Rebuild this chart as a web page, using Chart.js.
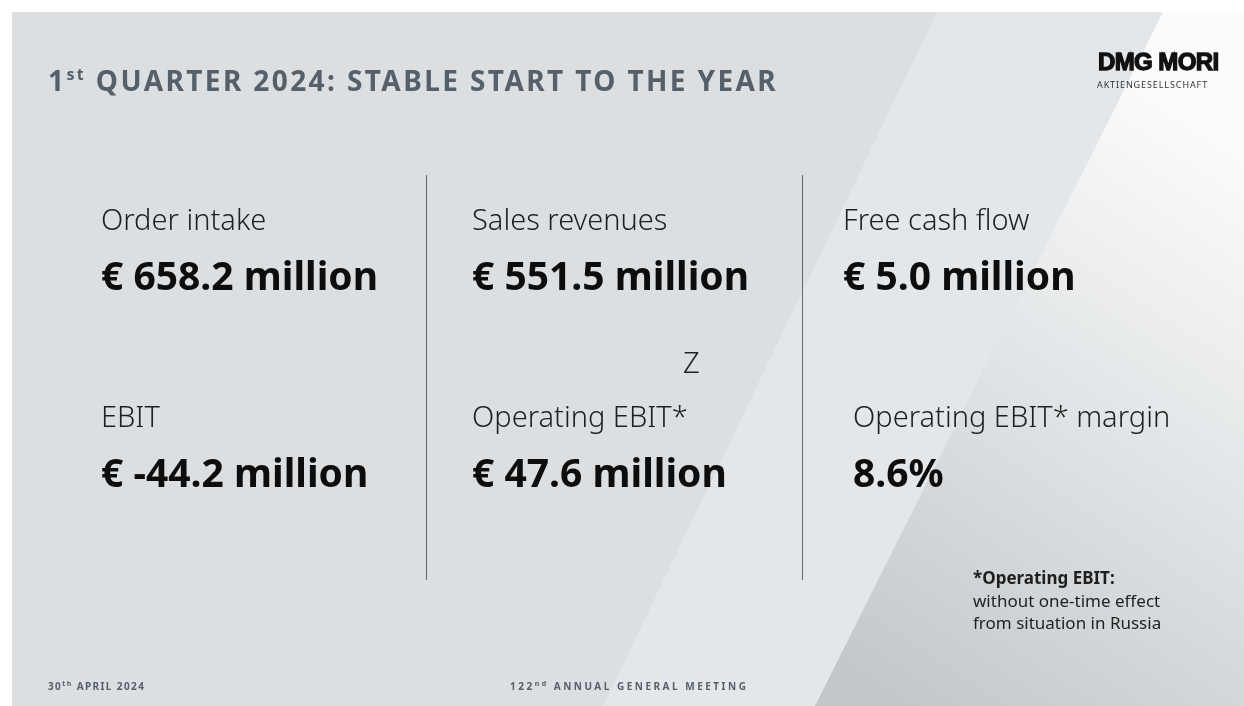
<!DOCTYPE html>
<html>
<head>
<meta charset="utf-8">
<script src="https://cdn.jsdelivr.net/npm/chart.js@4"></script>
<style>
  html, body { margin: 0; padding: 0; background: #fff; }
  #wrap { width: 1244px; height: 706px; position: relative; }
</style>
</head>
<body>
<div id="wrap"><canvas id="kpi"></canvas></div>
<script>
// KPI tiles, read left to right, top to bottom
const LABELS = ['Order intake', 'Sales revenues', 'Free cash flow', 'EBIT', 'Operating EBIT*', 'Operating EBIT* margin'];
const VALUES = [658.2, 551.5, 5.0, -44.2, 47.6, 8.6];
const UNITS = ['million', 'million', 'million', 'million', 'million', '%'];
const COLS = [0, 1, 2, 0, 1, 2];
const ROWS = [0, 0, 0, 1, 1, 1];

const TITLE = ['1', 'st', ' QUARTER 2024: STABLE START TO THE YEAR'];
const FOOT_LEFT = ['30', 'th', ' APRIL 2024'];
const FOOT_MID = ['122', 'nd', ' ANNUAL GENERAL MEETING'];
const NOTE = ['*Operating EBIT:', 'without one-time effect', 'from situation in Russia'];

const FONT = '"Noto Sans", "Open Sans", sans-serif';

function fmt(v, unit) {
  return unit === '%' ? v.toFixed(1) + '%' : '€ ' + v.toFixed(1) + ' ' + unit;
}

// text with superscript piece
function supText(ctx, parts, x, y, size, sup, spacing) {
  ctx.letterSpacing = spacing + 'px';
  ctx.font = `bold ${size}px ${FONT}`;
  ctx.fillText(parts[0], x, y);
  x += ctx.measureText(parts[0]).width;
  ctx.font = `bold ${sup}px ${FONT}`;
  ctx.fillText(parts[1], x, y - size * 0.38);
  x += ctx.measureText(parts[1]).width;
  ctx.font = `bold ${size}px ${FONT}`;
  ctx.fillText(parts[2], x, y);
  ctx.letterSpacing = '0px';
}

const slide = {
  id: 'slide',
  beforeDraw(chart) {
    const { ctx, width, height } = chart;
    ctx.save();
    ctx.fillStyle = '#ffffff';
    ctx.fillRect(0, 0, width, height);
    // base panel
    ctx.fillStyle = '#dcdfe2';
    ctx.fillRect(12, 12, width - 12, height - 12);
    // light diagonal band
    ctx.fillStyle = '#e3e7ea';
    ctx.beginPath();
    ctx.moveTo(937, 12); ctx.lineTo(1163, 12); ctx.lineTo(815, 706); ctx.lineTo(603, 706);
    ctx.closePath(); ctx.fill();
    // right wedge with gradient
    const g = ctx.createLinearGradient(880, 700, 1244, 150);
    g.addColorStop(0, '#c3c7ca');
    g.addColorStop(0.55, '#e2e5e7');
    g.addColorStop(1, '#fbfbfb');
    ctx.fillStyle = g;
    ctx.beginPath();
    ctx.moveTo(1163, 12); ctx.lineTo(1244, 12); ctx.lineTo(1244, 706); ctx.lineTo(815, 706);
    ctx.closePath(); ctx.fill();
    ctx.restore();
  },
  afterDatasetsDraw(chart) {
    const { ctx } = chart;
    const pts = chart.getDatasetMeta(0).data;
    const nudge = [0, 0, 0, 0, 0, 10];
    ctx.save();
    ctx.textBaseline = 'alphabetic';
    ctx.textAlign = 'left';

    // separators in front of columns 2 and 3
    ctx.strokeStyle = '#5d6872';
    ctx.lineWidth = 1;
    [[pts[1].x, 46], [pts[2].x, 41]].forEach(([px, gap]) => {
      const sx = Math.round(px - gap) + 0.5;
      ctx.beginPath(); ctx.moveTo(sx, 175); ctx.lineTo(sx, 580); ctx.stroke();
    });

    pts.forEach((p, i) => {
      const x = p.x + nudge[i];
      ctx.fillStyle = '#1f1f1f';
      ctx.font = `300 29px ${FONT}`;
      ctx.fillText(LABELS[i], x, p.y);
      ctx.fillStyle = '#0d0d0d';
      ctx.font = `bold 39px ${FONT}`;
      ctx.fillText(fmt(VALUES[i], UNITS[i]), x, p.y + 60);
    });

    // stray letter on the slide
    ctx.fillStyle = '#1f1f1f';
    ctx.font = `300 29px ${FONT}`;
    ctx.fillText('Z', 683, 373);

    // title
    ctx.fillStyle = '#55606a';
    supText(ctx, TITLE, 48, 91, 28, 16, 2.4);

    // logo
    ctx.fillStyle = '#111';
    ctx.strokeStyle = '#111';
    ctx.lineWidth = 1.3;
    ctx.font = 'bold 24px "Liberation Sans", Arial, sans-serif';
    ctx.letterSpacing = '-0.6px';
    ctx.fillText('DMG MORI', 1098, 70);
    ctx.strokeText('DMG MORI', 1098, 70);
    ctx.letterSpacing = '0.9px';
    ctx.font = `9px ${FONT}`;
    ctx.fillStyle = '#333';
    ctx.fillText('AKTIENGESELLSCHAFT', 1097, 88);
    ctx.letterSpacing = '0px';

    // footnote
    ctx.fillStyle = '#1f1f1f';
    ctx.font = `bold 17px ${FONT}`;
    ctx.fillText(NOTE[0], 973, 584);
    ctx.font = `17px ${FONT}`;
    ctx.fillText(NOTE[1], 973, 607);
    ctx.fillText(NOTE[2], 973, 629);

    // footer
    ctx.fillStyle = '#55606a';
    supText(ctx, FOOT_LEFT, 48, 690, 10, 7, 1.4);
    supText(ctx, FOOT_MID, 510, 690, 10, 7, 2.5);
    ctx.restore();
  }
};

new Chart(document.getElementById('kpi'), {
  type: 'scatter',
  data: {
    datasets: [{
      data: LABELS.map((l, i) => ({ x: COLS[i], y: ROWS[i] })),
      pointRadius: 0,
      pointHoverRadius: 0,
    }],
  },
  options: {
    responsive: true,
    maintainAspectRatio: false,
    animation: false,
    events: [],
    layout: { padding: { left: 101, right: 401, top: 230, bottom: 279 } },
    plugins: { legend: { display: false }, tooltip: { enabled: false } },
    scales: {
      x: { display: false, min: 0, max: 2 },
      y: { display: false, min: 0, max: 1, reverse: true },
    },
  },
  plugins: [slide],
});
</script>
</body>
</html>
